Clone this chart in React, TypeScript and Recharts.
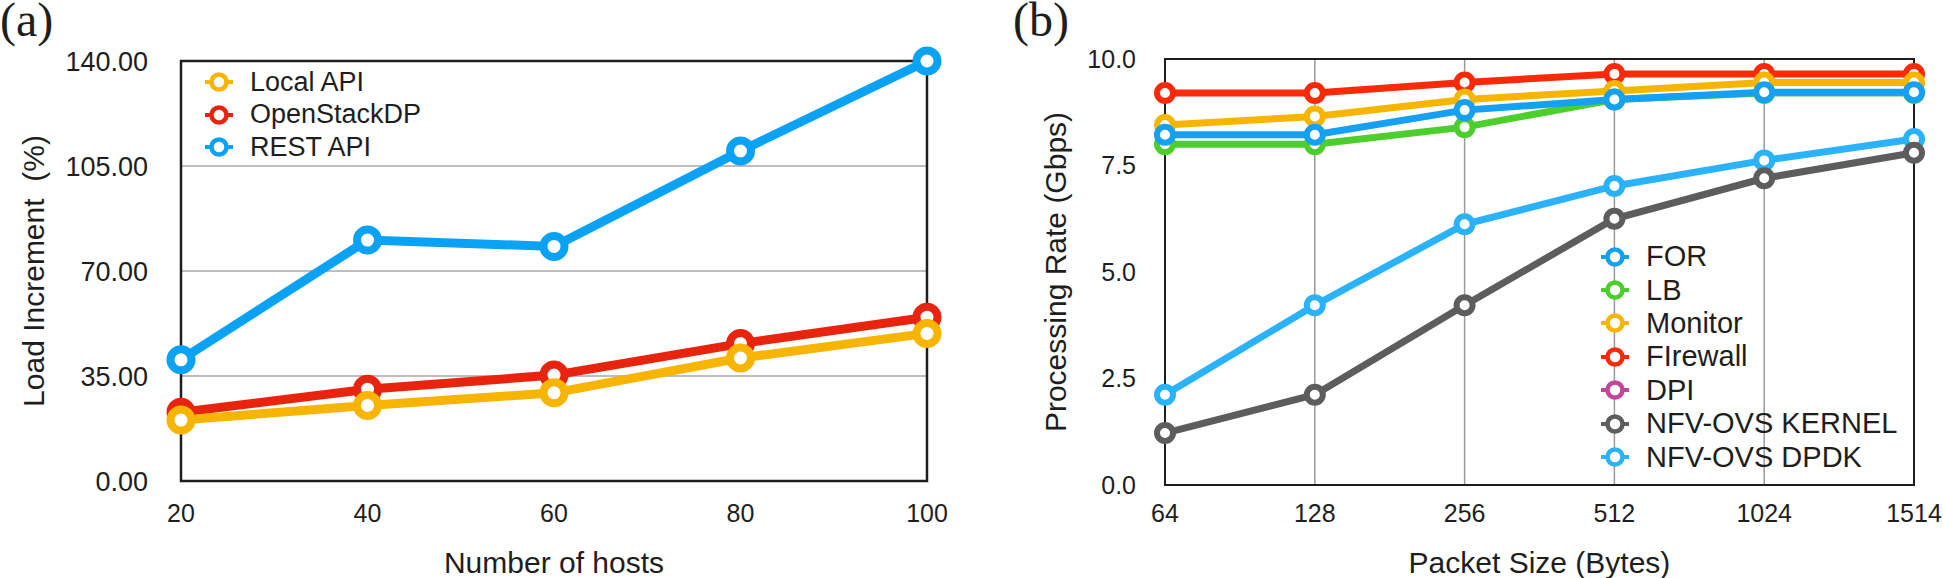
import { LineChart, Line, XAxis, YAxis, CartesianGrid, ReferenceArea } from 'recharts'

// (a) load increment vs number of hosts
const hosts = [20, 40, 60, 80, 100]
const localApi = [20.3, 25.2, 29.4, 41, 49.2]
const openStackDp = [22.9, 30.6, 35.3, 45.8, 54.6]
const restApi = [40.4, 80.3, 78.2, 110, 140]
const loadTicks = [0, 35, 70, 105, 140]

// (b) processing rate vs packet size
const packetSizes = ['64', '128', '256', '512', '1024', '1514']
const forRate = [8.22, 8.22, 8.8, 9.05, 9.22, 9.22]
const lbRate = [8.0, 8.0, 8.4, 9.05, 9.2, 9.2]
const monitorRate = [8.45, 8.65, 9.05, 9.25, 9.45, 9.45]
const firewallRate = [9.2, 9.2, 9.45, 9.65, 9.65, 9.65]
const dpiRate: (number | null)[] = [null, null, null, null, null, null]
const kernelRate = [1.22, 2.12, 4.22, 6.25, 7.2, 7.8]
const dpdkRate = [2.12, 4.22, 6.12, 7.02, 7.62, 8.12]
const rateTicks = [0, 2.5, 5, 7.5, 10]

const FONT = '"Liberation Sans", Arial, Helvetica, sans-serif'
const SERIF = '"Liberation Serif", "Times New Roman", serif'
const INK = '#1e1e1e'

const loadData = hosts.map((h, i) => ({
  hosts: h,
  local: localApi[i],
  openstack: openStackDp[i],
  rest: restApi[i],
}))

const rateData = packetSizes.map((s, i) => ({
  size: s,
  FOR: forRate[i],
  LB: lbRate[i],
  Monitor: monitorRate[i],
  Firewall: firewallRate[i],
  DPI: dpiRate[i],
  kernel: kernelRate[i],
  dpdk: dpdkRate[i],
}))

const legendA = [
  { name: 'Local API', color: '#f7b400' },
  { name: 'OpenStackDP', color: '#e8240f' },
  { name: 'REST API', color: '#0aa2f5' },
]

const legendB = [
  { name: 'FOR', color: '#15a0f2' },
  { name: 'LB', color: '#4ccf2c' },
  { name: 'Monitor', color: '#f8b500' },
  { name: 'FIrewall', color: '#fa2a08' },
  { name: 'DPI', color: '#c4469a' },
  { name: 'NFV-OVS KERNEL', color: '#5d5d5d' },
  { name: 'NFV-OVS DPDK', color: '#2ab3fb' },
]

// rotated y title, centred on the plot height at a fixed x (chart coords)
function VTitle({ viewBox, text, posX }: any) {
  const cy = viewBox.y + viewBox.height / 2
  return (
    <text
      x={posX}
      y={cy}
      transform={`rotate(-90 ${posX} ${cy})`}
      textAnchor="middle"
      dominantBaseline="central"
      fontSize={30}
      fontFamily={FONT}
      fill={INK}
      style={{ whiteSpace: 'pre' }}
    >
      {text}
    </text>
  )
}

function HTitle({ viewBox, text, posY }: any) {
  const cx = viewBox.x + viewBox.width / 2
  return (
    <text x={cx} y={posY} textAnchor="middle" dominantBaseline="central" fontSize={30} fontFamily={FONT} fill={INK}>
      {text}
    </text>
  )
}

function LegendBox({ items, left, top, rowH, fontSize }: any) {
  return (
    <div style={{ position: 'absolute', left, top, fontFamily: FONT, fontSize, color: INK }}>
      {items.map((it: any) => (
        <div key={it.name} style={{ display: 'flex', alignItems: 'center', height: rowH, whiteSpace: 'pre' }}>
          <svg width={28} height={26} style={{ marginRight: 17 }}>
            <line x1={0} y1={13} x2={28} y2={13} stroke={it.color} strokeWidth={4} />
            <circle cx={14} cy={13} r={7.5} fill="#fff" stroke={it.color} strokeWidth={4.5} />
          </svg>
          <span>{it.name}</span>
        </div>
      ))}
    </div>
  )
}

const tickStyle = { fill: INK, fontSize: 25, fontFamily: FONT }
const panelLabel = { position: 'absolute' as const, top: 0, fontFamily: SERIF, fontSize: 48, lineHeight: '40px', color: INK }

export default function App() {
  return (
    <div style={{ position: 'absolute', left: 0, top: 0, width: 1943, height: 578, background: '#fff', overflow: 'hidden' }}>
      <div style={{ ...panelLabel, left: 0 }}>(a)</div>
      <div style={{ ...panelLabel, left: 1013 }}>(b)</div>

      <div style={{ position: 'absolute', left: 0, top: 0 }}>
        <LineChart width={960} height={578} data={loadData} margin={{ top: 61, right: 33, bottom: 37, left: 0 }}>
          <CartesianGrid vertical={false} stroke="#bdbdbd" strokeWidth={2} />
          <ReferenceArea x1={20} x2={100} y1={0} y2={140} fill="none" stroke={INK} strokeWidth={2.5} />
          <XAxis
            dataKey="hosts"
            axisLine={false}
            tickLine={false}
            tickSize={0}
            tickMargin={23}
            height={60}
            interval={0}
            tick={tickStyle}
            label={<HTitle text="Number of hosts" posY={562} />}
          />
          <YAxis
            domain={[0, 140]}
            ticks={loadTicks}
            tickFormatter={(v: number) => v.toFixed(2)}
            axisLine={false}
            tickLine={false}
            tickSize={0}
            tickMargin={33}
            width={181}
            interval={0}
            tick={{ ...tickStyle, fontSize: 27 }}
            label={<VTitle text="Load Increment  (%)" posX={33} />}
          />
          <Line dataKey="rest" stroke="#0aa2f5" strokeWidth={9} dot={{ r: 10.5, strokeWidth: 8, fill: '#fff', stroke: '#0aa2f5' }} isAnimationActive={false} />
          <Line dataKey="openstack" stroke="#e8240f" strokeWidth={9} dot={{ r: 10.5, strokeWidth: 8, fill: '#fff', stroke: '#e8240f' }} isAnimationActive={false} />
          <Line dataKey="local" stroke="#f7b400" strokeWidth={9} dot={{ r: 10.5, strokeWidth: 8, fill: '#fff', stroke: '#f7b400' }} isAnimationActive={false} />
        </LineChart>
      </div>

      <div style={{ position: 'absolute', left: 960, top: 0 }}>
        <LineChart width={983} height={578} data={rateData} margin={{ top: 59, right: 29, bottom: 33, left: 0 }}>
          <CartesianGrid horizontal={false} stroke="#9a9a9a" strokeWidth={1.5} />
          <ReferenceArea x1="64" x2="1514" y1={0} y2={10} fill="none" stroke={INK} strokeWidth={2} />
          <XAxis
            dataKey="size"
            axisLine={false}
            tickLine={false}
            tickSize={0}
            tickMargin={19}
            height={60}
            interval={0}
            tick={tickStyle}
            label={<HTitle text="Packet Size (Bytes)" posY={562} />}
          />
          <YAxis
            domain={[0, 10]}
            ticks={rateTicks}
            tickFormatter={(v: number) => v.toFixed(1)}
            axisLine={false}
            tickLine={false}
            tickSize={0}
            tickMargin={29}
            width={205}
            interval={0}
            tick={tickStyle}
            label={<VTitle text="Processing Rate (Gbps)" posX={95} />}
          />
          <Line dataKey="DPI" stroke="#c4469a" strokeWidth={7} dot={{ r: 8, strokeWidth: 6, fill: '#fff', stroke: '#c4469a' }} isAnimationActive={false} />
          <Line dataKey="Firewall" stroke="#fa2a08" strokeWidth={7} dot={{ r: 8, strokeWidth: 6, fill: '#fff', stroke: '#fa2a08' }} isAnimationActive={false} />
          <Line dataKey="Monitor" stroke="#f8b500" strokeWidth={7} dot={{ r: 8, strokeWidth: 6, fill: '#fff', stroke: '#f8b500' }} isAnimationActive={false} />
          <Line dataKey="LB" stroke="#4ccf2c" strokeWidth={7} dot={{ r: 8, strokeWidth: 6, fill: '#fff', stroke: '#4ccf2c' }} isAnimationActive={false} />
          <Line dataKey="FOR" stroke="#15a0f2" strokeWidth={7} dot={{ r: 8, strokeWidth: 6, fill: '#fff', stroke: '#15a0f2' }} isAnimationActive={false} />
          <Line dataKey="dpdk" stroke="#2ab3fb" strokeWidth={7} dot={{ r: 8, strokeWidth: 6, fill: '#fff', stroke: '#2ab3fb' }} isAnimationActive={false} />
          <Line dataKey="kernel" stroke="#5d5d5d" strokeWidth={7} dot={{ r: 8, strokeWidth: 6, fill: '#fff', stroke: '#5d5d5d' }} isAnimationActive={false} />
        </LineChart>
      </div>

      <LegendBox items={legendA} left={205} top={66} rowH={32.5} fontSize={27} />
      <LegendBox items={legendB} left={1601} top={240} rowH={33.4} fontSize={29} />
    </div>
  )
}
